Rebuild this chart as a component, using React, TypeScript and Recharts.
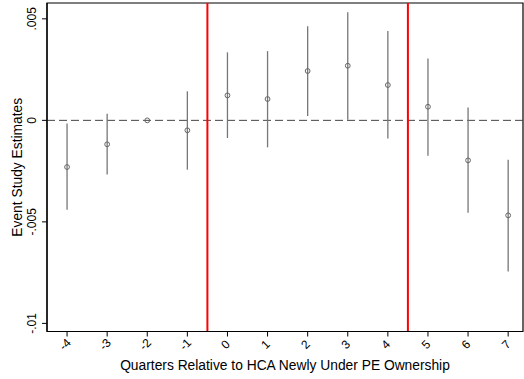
import { ComposedChart, Scatter, ErrorBar, XAxis, YAxis, ReferenceLine, ReferenceArea } from 'recharts'

const quarters = [-4, -3, -2, -1, 0, 1, 2, 3, 4, 5, 6, 7]
const estimates = [-0.0023, -0.00118, 0, -0.00049, 0.00123, 0.00105, 0.00243, 0.00269, 0.00174, 0.00067, -0.00197, -0.00468]
const lower = [-0.0044, -0.00267, 0, -0.00243, -0.00087, -0.00133, 0.00021, 0.00003, -0.00089, -0.00174, -0.00455, -0.00744]
const upper = [-0.00016, 0.00033, 0, 0.00143, 0.00335, 0.00341, 0.00463, 0.00532, 0.0044, 0.00305, 0.00063, -0.00194]
const yTicks = [-0.01, -0.005, 0, 0.005]
const yTickLabels = ['-.01', '-.005', '0', '.005']
const treatmentBounds = [-0.5, 4.5]

const xDomain: [number, number] = [-4.5, 7.37]
const yDomain: [number, number] = [-0.0104, 0.00578]

const data = quarters.map((q, i) => ({
  q,
  est: estimates[i],
  err: [estimates[i] - lower[i], upper[i] - estimates[i]],
}))

const font = '"Liberation Sans", Arial, Helvetica, sans-serif'

function XTick({ x, y, payload }: any) {
  return (
    <text
      x={0}
      y={0}
      transform={`translate(${x - 2},${y + 6}) rotate(-45)`}
      textAnchor="middle"
      dominantBaseline="central"
      fontFamily={font}
      fontSize={12}
      fill="#000"
    >
      {payload.value}
    </text>
  )
}

function YTick({ x, y, payload }: any) {
  const idx = yTicks.indexOf(payload.value)
  return (
    <text
      x={0}
      y={0}
      transform={`translate(${x - 8},${y}) rotate(-90)`}
      textAnchor="middle"
      dominantBaseline="central"
      fontFamily={font}
      fontSize={12}
      fill="#000"
    >
      {idx >= 0 ? yTickLabels[idx] : payload.value}
    </text>
  )
}

function YTitle({ viewBox }: any) {
  const cy = viewBox.y + viewBox.height / 2
  return (
    <text
      x={0}
      y={0}
      transform={`translate(17,${cy}) rotate(-90)`}
      textAnchor="middle"
      dominantBaseline="central"
      fontFamily={font}
      fontSize={13.8}
      fill="#000"
    >
      Event Study Estimates
    </text>
  )
}

function Dot({ cx, cy }: any) {
  return <circle cx={cx} cy={cy} r={2.4} fill="none" stroke="#666" strokeWidth={1} />
}

export default function App() {
  return (
    <div style={{ position: 'absolute', left: 0, top: 0, width: 524, height: 379, background: '#fff' }}>
      <ComposedChart width={524} height={379} margin={{ top: 3, right: 1, left: 0, bottom: 0 }}>
        <XAxis
          dataKey="q"
          type="number"
          domain={xDomain}
          ticks={quarters}
          allowDataOverflow
          height={47.5}
          tick={<XTick />}
          tickSize={5}
          axisLine={{ stroke: '#000', strokeWidth: 1.2 }}
          tickLine={{ stroke: '#000' }}
          label={{ value: 'Quarters Relative to HCA Newly Under PE Ownership', position: 'insideBottom', offset: 9, fontFamily: font, fontSize: 13.8, fill: '#000' }}
        />
        <YAxis
          type="number"
          domain={yDomain}
          ticks={yTicks}
          allowDataOverflow
          width={47}
          tick={<YTick />}
          tickSize={5}
          axisLine={{ stroke: '#000', strokeWidth: 1.2 }}
          tickLine={{ stroke: '#000' }}
          label={<YTitle />}
        />
        <ReferenceArea x1={xDomain[0]} x2={xDomain[1]} y1={yDomain[0]} y2={yDomain[1]} fill="none" stroke="#000" strokeWidth={1.2} ifOverflow="visible" />
        <ReferenceLine y={0} stroke="#444" strokeWidth={1} strokeDasharray="8 4" />
        {treatmentBounds.map((b) => (
          <ReferenceLine key={b} x={b} stroke="#ff0000" strokeWidth={2} />
        ))}
        <Scatter data={data} dataKey="est" shape={<Dot />} isAnimationActive={false}>
          <ErrorBar dataKey="err" direction="y" width={0} stroke="#777" strokeWidth={1.3} isAnimationActive={false} />
        </Scatter>
      </ComposedChart>
    </div>
  )
}
